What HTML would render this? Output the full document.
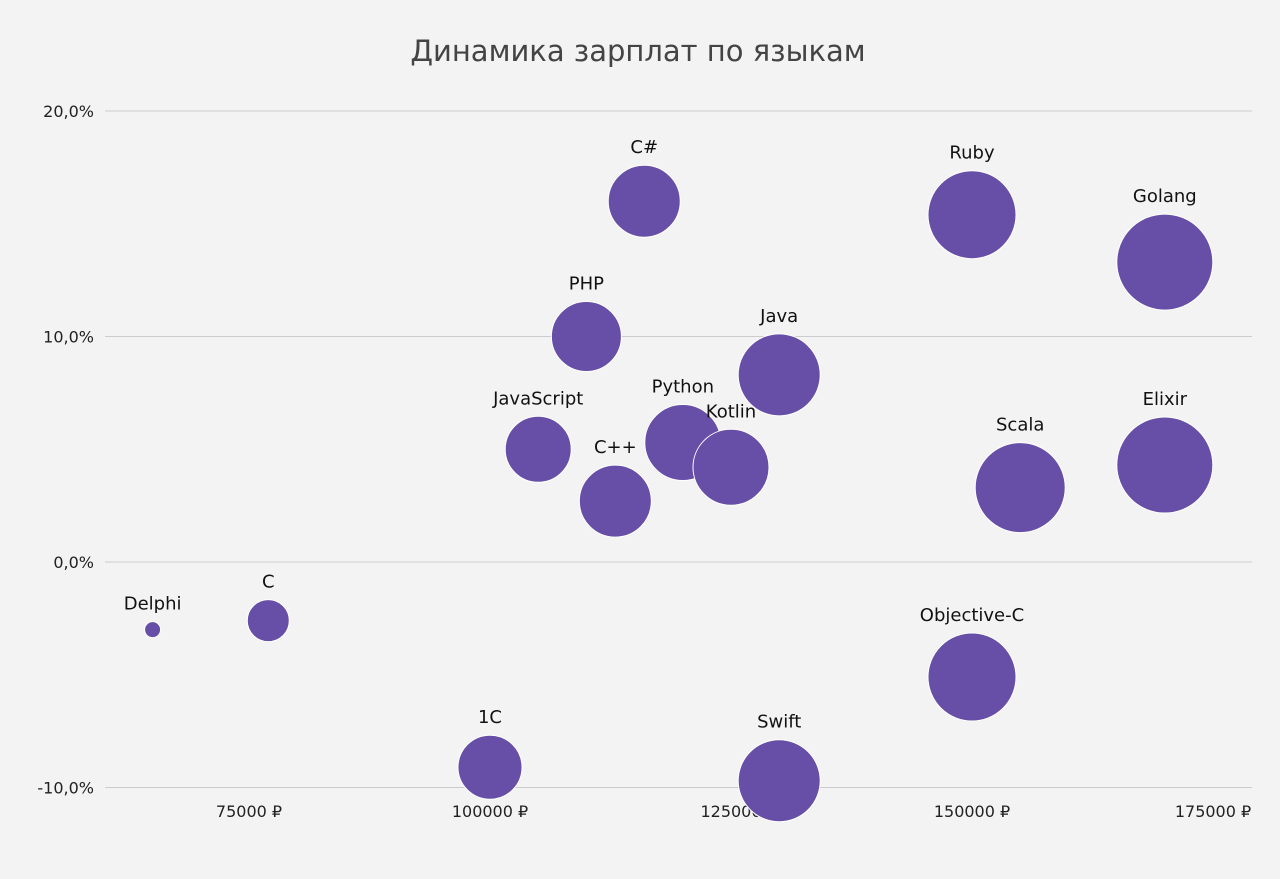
<!DOCTYPE html>
<html><head><meta charset="utf-8"><style>
html,body{margin:0;padding:0;background:#f3f3f3;}
svg{display:block;font-family:"DejaVu Sans","Liberation Sans",sans-serif;}
</style></head><body>
<svg id="chart" width="1280" height="879" viewBox="0 0 1280 879">
<rect width="1280" height="879" fill="#f3f3f3"/>
<text x="638" y="61" text-anchor="middle" font-size="29" fill="#444">Динамика зарплат по языкам</text>
<g id="grid"></g><g id="bubbles"></g><g id="labels"></g>
</svg>
<script>
const languages=["Delphi","C","1C","JavaScript","C++","PHP","C#","Python","Kotlin","Java","Swift","Ruby","Objective-C","Scala","Golang","Elixir"];
const salaries=[65000,77000,100000,105000,113000,110000,116000,120000,125000,130000,130000,150000,150000,155000,170000,170000];
const growth=[-3.0,-2.6,-9.1,5.0,2.7,10.0,16.0,5.3,4.2,8.3,-9.7,15.4,-5.1,3.3,13.3,4.3];
const sizes=[8,21,32,33,36,35,36,38,38,41,41,44,44,45,48,48];
const yTicks=[20,10,0,-10];
const yTickLabels=["20,0%","10,0%","0,0%","-10,0%"];
const xTicks=[75000,100000,125000,150000,175000];
const xTickLabels=["75000 ₽","100000 ₽","125000","150000 ₽","175000 ₽"];
const NS="http://www.w3.org/2000/svg";
function xs(v){return 490+(v-100000)*0.00964;}
function ys(v){return 562-v*22.55;}
function rs(s){return s;}
const grid=document.getElementById('grid');
yTicks.forEach((t,i)=>{
  const l=document.createElementNS(NS,'line');
  l.setAttribute('x1',105);l.setAttribute('x2',1252);l.setAttribute('y1',ys(t));l.setAttribute('y2',ys(t));
  l.setAttribute('stroke','#cccccc');l.setAttribute('stroke-width','1');
  
  
  grid.appendChild(l);
  const tx=document.createElementNS(NS,'text');
  tx.setAttribute('x',94);tx.setAttribute('y',ys(t)+6);tx.setAttribute('text-anchor','end');
  tx.setAttribute('font-size','16');tx.setAttribute('fill','#222');
  tx.textContent=yTickLabels[i];
  
  
  grid.appendChild(tx);
});
xTicks.forEach((t,i)=>{
  const tx=document.createElementNS(NS,'text');
  tx.setAttribute('x',xs(t));tx.setAttribute('y',817);tx.setAttribute('text-anchor','middle');
  tx.setAttribute('font-size','16');tx.setAttribute('fill','#222');
  tx.textContent=xTickLabels[i];
  
  
  grid.appendChild(tx);
});
const bg=document.getElementById('bubbles'),lg=document.getElementById('labels');
languages.forEach((n,i)=>{
  const cx=xs(salaries[i]),cy=ys(growth[i]),r=rs(sizes[i]);
  const c=document.createElementNS(NS,'circle');
  c.setAttribute('cx',cx);c.setAttribute('cy',cy);c.setAttribute('r',r);
  c.setAttribute('fill','#674ea7');c.setAttribute('stroke','#ffffff');c.setAttribute('stroke-width','1');
  
  
  bg.appendChild(c);
  const t=document.createElementNS(NS,'text');
  t.setAttribute('x',cx);t.setAttribute('y',cy-r-12);t.setAttribute('text-anchor','middle');
  t.setAttribute('font-size','18');t.setAttribute('fill','#111');
  t.textContent=n;
  
  
  lg.appendChild(t);
});
</script>
</body></html>
